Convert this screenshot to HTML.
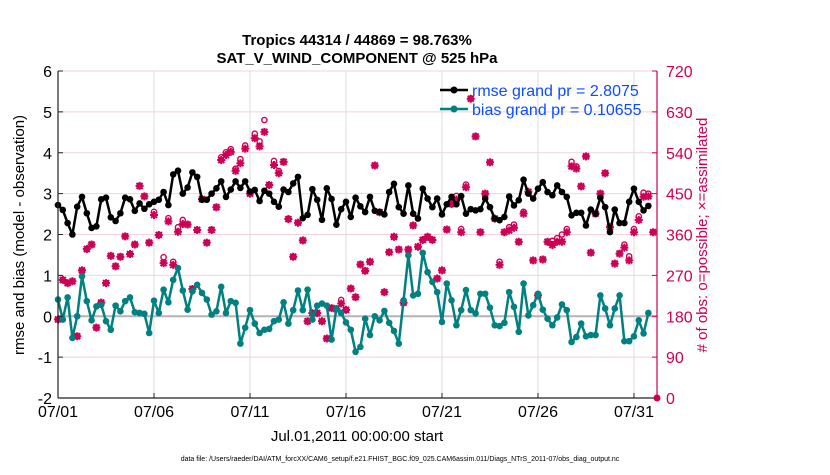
<!DOCTYPE html>
<html><head><meta charset="utf-8"><style>
body{margin:0;background:#fff;}
svg text{font-family:"Liberation Sans",sans-serif;}
</style></head><body>
<svg id="chart" width="830" height="470" xmlns="http://www.w3.org/2000/svg">
<text x="357" y="45" text-anchor="middle" font-size="15" font-weight="bold">Tropics 44314 / 44869 = 98.763%</text>
<text x="357" y="63" text-anchor="middle" font-size="15" font-weight="bold">SAT_V_WIND_COMPONENT @ 525 hPa</text>
<g id="grid"></g>
<g id="plot"></g>
<g id="axes"></g>
<text transform="translate(24,235) rotate(-90)" text-anchor="middle" font-size="15">rmse and bias (model - observation)</text>
<text transform="translate(707,235) rotate(-90)" text-anchor="middle" font-size="15" fill="#cc0055"># of obs: o=possible; ×=assimilated</text>
<text x="357" y="441" text-anchor="middle" font-size="15">Jul.01,2011 00:00:00 start</text>
<text x="400" y="461" text-anchor="middle" font-size="7">data file: /Users/raeder/DAI/ATM_forcXX/CAM6_setup/f.e21.FHIST_BGC.f09_025.CAM6assim.011/Diags_NTrS_2011-07/obs_diag_output.nc</text>
<g>
<line x1="440" y1="90" x2="468" y2="90" stroke="#000" stroke-width="2.5"/><circle cx="454" cy="90" r="3.5" fill="#000"/>
<text x="472" y="96" font-size="16" fill="#0b4cff">rmse grand pr = 2.8075</text>
<line x1="440" y1="109" x2="468" y2="109" stroke="#008080" stroke-width="2.5"/><circle cx="454" cy="109" r="3.5" fill="#008080"/>
<text x="472" y="115" font-size="16" fill="#0b4cff">bias grand pr = 0.10655</text>
</g>
</svg>
<script>
const xTickLabels = ["07/01","07/06","07/11","07/16","07/21","07/26","07/31"];
const xTickDays = [0,5,10,15,20,25,30];
const yLeftTicks = [-2,-1,0,1,2,3,4,5,6];
const yRightTicks = [0,90,180,270,360,450,540,630,720];
const rmse = [2.72,2.6,2.28,2.0,2.68,2.92,2.52,2.16,2.2,2.86,2.9,2.42,2.33,2.52,2.9,2.86,2.58,2.76,2.63,2.74,2.8,2.85,3.04,2.72,3.47,3.56,3.0,3.15,3.52,3.41,2.85,2.85,3.0,3.13,3.3,2.92,3.1,3.3,3.14,3.3,3.05,3.09,2.82,3.07,3.0,2.8,2.68,3.1,3.04,3.25,3.41,2.4,2.48,3.11,2.85,2.36,3.13,2.87,2.24,2.62,2.8,
2.43,2.9,2.69,2.55,2.92,2.58,2.55,2.49,3.04,3.24,2.67,2.51,3.2,2.51,2.39,3.12,2.88,2.67,2.88,2.49,2.74,2.92,2.74,2.94,2.51,2.62,2.59,2.62,2.88,2.67,2.39,2.35,2.43,2.93,2.71,2.84,3.34,3.0,2.88,3.12,3.28,3.04,2.96,3.2,3.04,2.92,2.47,2.53,2.53,2.22,2.61,2.51,2.9,2.67,2.06,2.61,2.28,2.28,2.8,3.12,2.8,2.59,2.7];
const bias = [0.41,-0.08,0.46,-0.53,0,0.98,0.37,-0.1,0.24,0.28,-0.12,-0.33,0.26,0.12,0.37,0.46,0.1,0.08,0.06,-0.41,0.38,0.08,0.65,0.34,0.89,1.18,0.63,0.16,0.61,0.77,0.57,0.41,0.04,0.12,0.72,0.08,0.37,0.33,-0.67,-0.28,0.15,-0.18,-0.41,-0.33,-0.31,-0.12,-0.08,0.34,-0.18,0.15,0.63,0.15,0.65,-0.08,0.26,0.31,0.26,-0.57,0.18,0.08,-0.15,
-0.33,-0.87,-0.75,-0.06,-0.46,0,-0.1,0.13,-0.16,-0.36,-0.67,0.39,1.49,0.51,0.55,1.55,1.08,0.84,0.59,-0.14,0.8,0.39,-0.22,0.15,0.64,0.15,0.07,0.55,0.55,0.21,-0.22,-0.24,-0.16,0.59,0.23,-0.38,0.8,0.02,0.27,0.55,0.16,-0.06,-0.22,-0.03,0.29,0.15,-0.63,-0.51,-0.18,-0.49,-0.46,-0.46,0.51,0.19,-0.22,0.19,0.51,-0.61,-0.61,-0.49,-0.1,-0.42,0.08];
const obsUsed = [173,260,253,257,136,281,328,338,155,210,253,313,290,311,356,317,338,467,444,342,403,359,297,389,293,366,383,382,240,370,438,342,370,420,524,535,542,500,517,549,450,572,554,586,469,513,495,520,394,311,386,347,169,187,187,169,131,198,196,208,194,
241,222,294,280,300,512,409,233,321,355,327,210,327,380,333,348,355,348,263,281,371,427,437,365,464,659,576,365,450,519,395,293,365,369,375,344,406,454,303,226,305,344,337,344,344,365,510,505,466,532,320,406,450,495,376,296,318,331,303,365,392,443,444,365];
const obsPossible = [173,260,253,257,136,281,328,338,155,210,253,313,290,311,356,317,338,467,444,342,410,359,310,396,300,376,392,382,240,370,438,342,370,420,530,541,548,505,526,556,450,582,565,612,469,522,500,520,394,311,386,347,169,187,187,169,131,198,196,216,194,
241,222,294,280,300,512,409,233,321,355,327,210,327,380,333,348,355,348,263,281,371,427,445,372,470,659,576,365,450,519,395,300,365,376,382,344,410,454,303,226,305,344,346,352,360,372,520,510,466,532,320,406,450,495,376,296,318,338,312,372,400,452,450,365];
const NS="http://www.w3.org/2000/svg";
const L=58,R=657,T=71,B=398,D0=0,D1=31.2;
const X=d=>L+(d-D0)/(D1-D0)*(R-L);
const Y=v=>B-(v+2)/8*(B-T);
const YR=c=>B-c/720*(B-T);
const tx=i=>i*0.25;
function mk(tag,attrs,parent){const e=document.createElementNS(NS,tag);for(const k in attrs)e.setAttribute(k,attrs[k]);parent.appendChild(e);return e;}
const grid=document.getElementById('grid'),plot=document.getElementById('plot'),axes=document.getElementById('axes');
xTickDays.forEach((d,i)=>{
  const g=mk('line',{x1:X(d),x2:X(d),y1:T,y2:B,stroke:'#dcdcdc','stroke-width':1},grid);
  
  
  const t=mk('text',{x:X(d),y:B+19,'text-anchor':'middle','font-size':16},axes);
  t.textContent=xTickLabels[i];
  
  
  mk('line',{x1:X(d),x2:X(d),y1:B,y2:B-5,stroke:'#222'},axes);
});
yRightTicks.forEach(c=>{
  const g=mk('line',{x1:L,x2:R,y1:YR(c),y2:YR(c),stroke:'#f2d3de','stroke-width':1},grid);
  
  
  const t=mk('text',{x:R+9,y:YR(c)+6,'font-size':16,fill:'#cc0055'},axes);
  t.textContent=c;
  
  
  mk('line',{x1:R,x2:R-5,y1:YR(c),y2:YR(c),stroke:'#cc0055'},axes);
});
yLeftTicks.forEach(v=>{
  const t=mk('text',{x:L-6,y:Y(v)+6,'text-anchor':'end','font-size':16},axes);
  t.textContent=v;
  
  
  mk('line',{x1:L,x2:L+5,y1:Y(v),y2:Y(v),stroke:'#222'},axes);
});
const zl=mk('line',{x1:L,x2:R,y1:Y(0),y2:Y(0),stroke:'#b8b0b4','stroke-width':2},grid);


mk('line',{x1:L,x2:L,y1:T,y2:B,stroke:'#222','stroke-width':1.2},axes);
mk('line',{x1:L,x2:R,y1:B,y2:B,stroke:'#222','stroke-width':1.2},axes);
mk('line',{x1:R,x2:R,y1:T,y2:B,stroke:'#cc0055','stroke-width':1.2},axes);
const zm=mk('circle',{cx:R,cy:B,r:3.5,fill:'#cc0055'},axes);


// obs markers
obsPossible.forEach((c,i)=>{
  const o=mk('circle',{cx:X(tx(i)),cy:YR(c),r:2.6,fill:'none',stroke:'#cc0055','stroke-width':1.4},plot);
  
  
});
obsUsed.forEach((c,i)=>{
  const x=X(tx(i)),y=YR(c);
  const a=mk('path',{d:`M${x-4},${y}h8M${x},${y-4}v8M${x-3},${y-3}l6,6M${x-3},${y+3}l6,-6`,stroke:'#cc0055','stroke-width':2},plot);
  
  
  mk('circle',{cx:x,cy:y,r:2.5,fill:'#cc0055'},plot);
});
function series(vals,color,name){
  const p=mk('polyline',{points:vals.map((v,i)=>X(tx(i))+','+Y(v)).join(' '),fill:'none',stroke:color,'stroke-width':2.5,'stroke-linejoin':'round'},plot);
  
  
  vals.forEach((v,i)=>{
    const c=mk('circle',{cx:X(tx(i)),cy:Y(v),r:3.3,fill:color},plot);
    
    
  });
}
series(bias,'#008080','bias');
series(rmse,'#000000','rmse');
</script>
</body></html>
